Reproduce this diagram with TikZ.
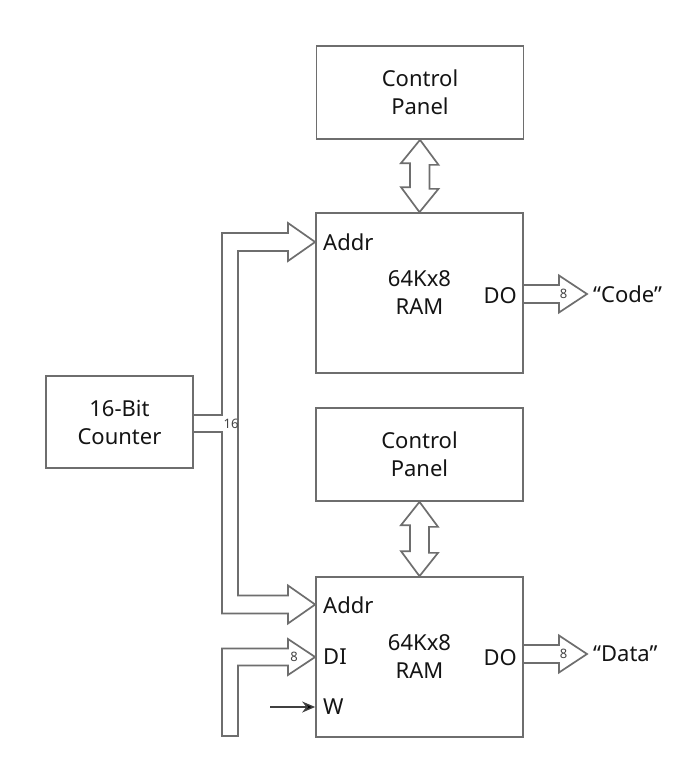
\documentclass[tikz,border=0pt]{standalone}
\usepackage{fontspec}
\setmainfont{Noto Sans}
\usetikzlibrary{arrows.meta,calc}
\definecolor{linegray}{RGB}{110,110,110}
\definecolor{txt}{RGB}{20,20,20}
\begin{document}
\begin{tikzpicture}[x=1pt,y=-1pt,
  line/.style={draw=linegray, line width=1.7pt, line join=miter},
  box/.style={line, rectangle, inner sep=0pt, align=center, font=\fontsize{22}{28}\selectfont, text=txt, minimum width=207pt},
  lbl/.style={inner sep=0pt, font=\fontsize{22}{28}\selectfont, text=txt},
  small/.style={inner sep=0pt, font=\fontsize{13}{13}\selectfont, text=txt!80}]
\useasboundingbox (0,0) rectangle (694,774);
\fill[white] (0,0) rectangle (694,774);

% boxes
\node[box, minimum height=93pt] (cp1) at (420,92.5) {Control\\Panel};
\node[box, minimum height=160pt] (ram1) at (419.5,293) {64Kx8\\RAM};
\node[box, minimum width=147pt, minimum height=92pt] (cnt) at (119.5,422) {16-Bit\\Counter};
\node[box, minimum height=93pt] (cp2) at (419.5,454.5) {Control\\Panel};
\node[box, minimum height=160pt] (ram2) at (419.5,657) {64Kx8\\RAM};

% port labels
\node[lbl, anchor=west] (addr1) at (323,242) {Addr};
\node[lbl, anchor=east] (do1) at (517,296) {DO};
\node[lbl, anchor=west] (addr2) at (323,605) {Addr};
\node[lbl, anchor=west] (di) at (323,657) {DI};
\node[lbl, anchor=west] (w) at (323,707) {W};
\node[lbl, anchor=east] (do2) at (517,658) {DO};

% double arrows between control panels and RAM
\draw[line] (cp1.south) -- ++(18.5,25) -- ++(-9,0) -- ++(0,24) -- ++(9,0) -- (ram1.north)
  -- ++(-18.5,-25) -- ++(9,0) -- ++(0,-24) -- ++(-9,0) -- cycle;
\draw[line] (cp2.south) -- ++(18.5,25) -- ++(-9,0) -- ++(0,26) -- ++(9,0) -- (ram2.north)
  -- ++(-18.5,-25) -- ++(9,0) -- ++(0,-26) -- ++(-9,0) -- cycle;

% 16-bit address bus
\draw[line] (cnt.east |- 0,415) -- (222,415) -- (222,233) -- (288,233) -- (288,223)
  -- (ram1.west |- 0,242) -- (288,261) -- (288,251) -- (238,251) -- (238,595.5)
  -- (288,595.5) -- (288,585.5) -- (ram2.west |- 0,604.5) -- (288,623.5) -- (288,613.5)
  -- (222,613.5) -- (222,432) -- (cnt.east |- 0,432);
\node[small] (n16) at (231,424) {16};

% data in bus
\coordinate (dibot) at (222,736);
\draw[line] (dibot) -- (222,648.5) -- (288,648.5) -- (288,639) -- (ram2.west |- 0,657)
  -- (288,675) -- (288,665.5) -- (238,665.5) -- (238,736) -- cycle;
\node[small] (n8di) at (294,657) {8};

% write strobe
\coordinate (wstart) at (270,707);
\draw[draw=black!75, line width=1.4pt, -{Stealth[length=13pt,width=11pt,fill=black]}] (wstart) -- (ram2.west |- 0,707);

% data out buses
\draw[line] (ram1.east |- 0,285) -- (559,285) -- (559,275.5) -- (587,294) -- (559,312.5) -- (559,303) -- (ram1.east |- 0,303);
\node[small] (n8a) at (563.5,294) {8};
\node[lbl, anchor=west] (code) at (593,294) {“Code”};

\draw[line] (ram2.east |- 0,645) -- (559,645) -- (559,635.5) -- (587,654) -- (559,672.5) -- (559,663) -- (ram2.east |- 0,663);
\node[small] (n8b) at (563.5,654) {8};
\node[lbl, anchor=west] (data) at (593,654) {“Data”};
\end{tikzpicture}
\end{document}
